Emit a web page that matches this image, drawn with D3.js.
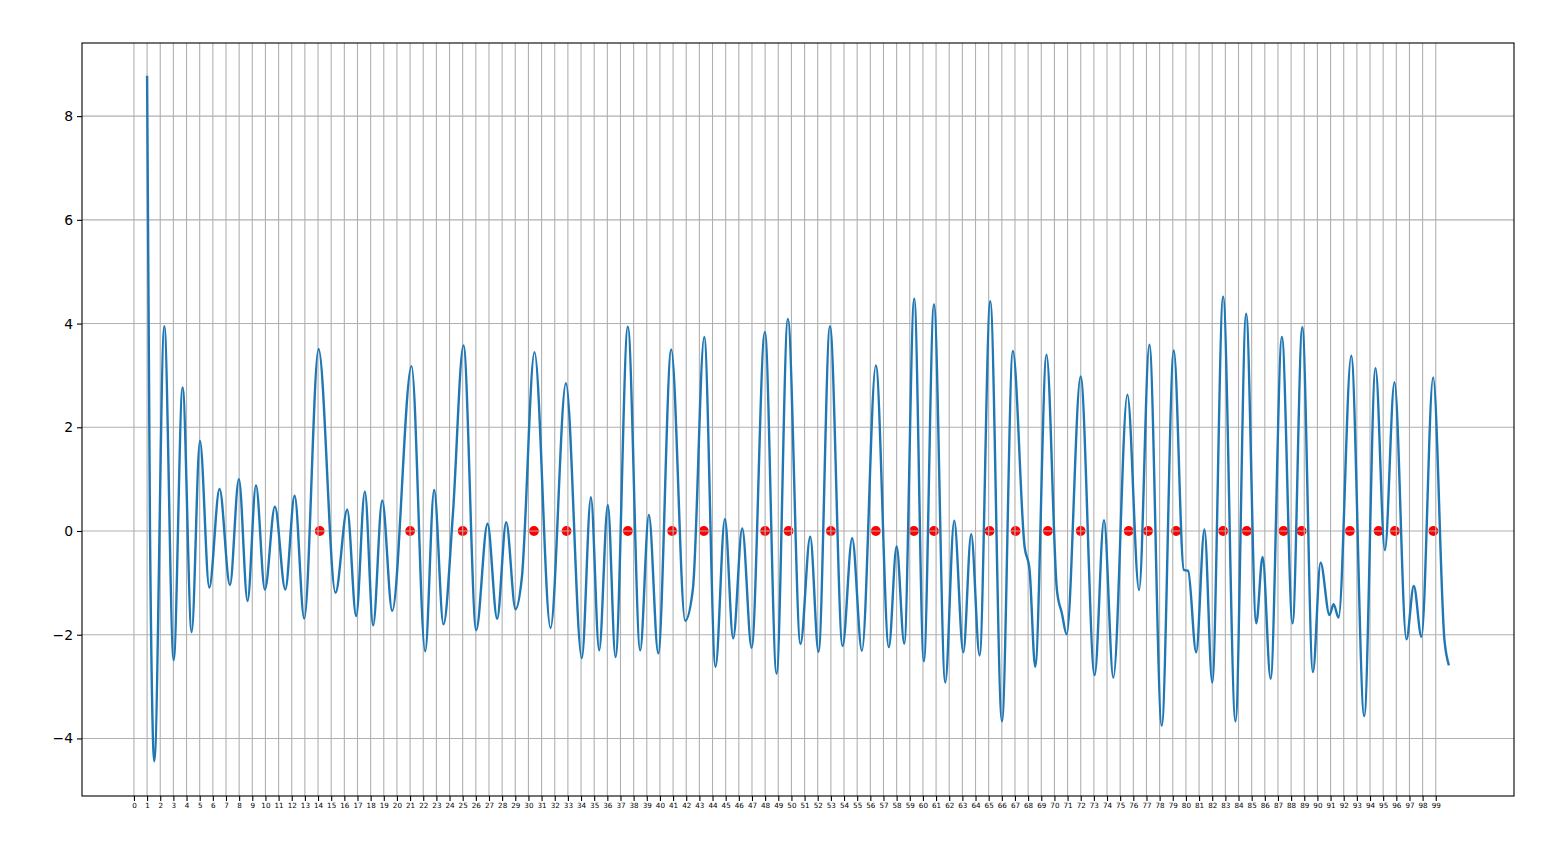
<!DOCTYPE html>
<html>
<head>
<meta charset="utf-8">
<script src="https://cdn.jsdelivr.net/npm/d3@7"></script>
<style>
  html, body { margin: 0; padding: 0; background: #ffffff; }
  svg { display: block; }
  text { font-family: "DejaVu Sans", sans-serif; fill: #000; }
</style>
</head>
<body>
<svg id="chart" width="1545" height="864"></svg>
<script>
// ---- data ----
const signalX = [
  1, 1.22, 1.55, 2.31, 3.02, 3.70, 4.39, 5.02, 5.73, 6.51, 7.30, 7.98, 8.64, 9.28, 9.96,
  10.72, 11.51, 12.22, 12.95, 14.04, 15.33, 16.22, 16.90, 17.56, 18.19, 18.88, 19.64,
  21.11, 22.15, 22.83, 23.54, 24.25, 25.06, 26.03, 26.89, 27.62, 28.31, 29.02, 29.5,
  30.46, 31.68, 32.85, 34.06, 34.75, 35.38, 36.04, 36.62, 37.56, 38.50, 39.16, 39.87,
  40.86, 41.92, 42.51, 43.37, 44.23, 44.94, 45.57, 46.26, 46.97, 47.98, 48.87, 49.73,
  50.69, 51.43, 52.06, 52.93, 53.89, 54.62, 55.36, 56.42, 57.41, 58.0, 58.58, 59.34,
  60.07, 60.84, 61.70, 62.38, 63.07, 63.67, 64.31, 65.12, 66.01, 66.84, 67.73, 68.11,
  68.54, 69.40, 70.19, 70.57, 70.93, 71.99, 73.06, 73.77, 74.48, 75.55, 76.44, 77.22,
  78.16, 79.08, 79.84, 80.17, 80.78, 81.41, 82.0, 82.83, 83.77, 84.58, 85.35, 85.83,
  86.44, 87.30, 88.11, 88.85, 89.66, 90.24, 90.92, 91.23, 91.61, 92.57, 93.56, 94.42,
  95.13, 95.86, 96.77, 97.33, 97.91, 98.80, 99.66, 100
];
const signalY = [
  8.78, 0, -4.44, 3.95, -2.49, 2.77, -1.95, 1.74, -1.09, 0.81, -1.04, 1.00, -1.35, 0.88, -1.13,
  0.47, -1.13, 0.68, -1.69, 3.51, -1.19, 0.41, -1.64, 0.76, -1.82, 0.59, -1.54,
  3.18, -2.32, 0.79, -1.80, 0.30, 3.58, -1.91, 0.14, -1.69, 0.17, -1.51, -0.90,
  3.45, -1.87, 2.85, -2.45, 0.65, -2.30, 0.50, -2.43, 3.94, -2.30, 0.31, -2.36,
  3.50, -1.73, -1.11, 3.74, -2.62, 0.23, -2.07, 0.05, -2.25, 3.84, -2.75, 4.09,
  -2.18, -0.11, -2.33, 3.95, -2.22, -0.14, -2.31, 3.19, -2.24, -0.30, -2.17, 4.48,
  -2.51, 4.37, -2.92, 0.20, -2.34, -0.06, -2.40, 4.43, -3.67, 3.47, -0.30, -0.75,
  -2.62, 3.40, -1.14, -1.59, -1.99, 2.98, -2.78, 0.21, -2.83, 2.63, -1.14, 3.59,
  -3.75, 3.48, -0.75, -0.77, -2.34, 0.03, -2.92, 4.52, -3.67, 4.19, -1.78, -0.50,
  -2.85, 3.74, -1.78, 3.93, -2.72, -0.61, -1.62, -1.41, -1.67, 3.38, -3.57, 3.14,
  -0.37, 2.87, -2.09, -1.06, -2.04, 2.96, -2.10, -2.59
];
const markerX = [
  14.13, 21.0, 25.0, 30.42, 32.9, 37.56, 40.93, 43.34, 48.0, 49.78, 53.0, 56.42, 59.31,
  60.84, 65.07, 67.05, 69.5, 72.0, 75.65, 77.12, 79.25, 82.83, 84.63, 87.42, 88.8,
  92.47, 94.65, 95.89, 98.82
];
const markerY = markerX.map(() => 0);
const xTickValues = d3.range(0, 100);
const yTickValues = [-4, -2, 0, 2, 4, 6, 8];

// ---- layout ----
const svg = d3.select("#chart");
const L = 82, R = 1514, T = 43, B = 796;
const x = d3.scaleLinear().domain([-3.95, 104.95]).range([L, R]);
const y = d3.scaleLinear().domain([-5.11, 9.41]).range([B, T]);

svg.append("clipPath").attr("id", "clip")
  .append("rect").attr("x", L).attr("y", T).attr("width", R - L).attr("height", B - T);

// markers (below the grid, as in the reference)
svg.append("g").selectAll("circle.m")
  .data(markerX.map((d, i) => [d, markerY[i]]))
  .join("circle")
  .attr("class", "m")
  .attr("cx", d => x(d[0]))
  .attr("cy", d => y(d[1]))
  .attr("r", 4.9)
  .attr("fill", "#ff0000");

// grid
const grid = svg.append("g").attr("stroke", "#b0b0b0").attr("stroke-width", 1.1);
grid.selectAll("line.gx").data(xTickValues).join("line")
  .attr("x1", d => x(d)).attr("x2", d => x(d))
  .attr("y1", T).attr("y2", B);
grid.selectAll("line.gy").data(yTickValues).join("line")
  .attr("x1", L).attr("x2", R)
  .attr("y1", d => y(d)).attr("y2", d => y(d));

// curve (above the grid)
const pts = signalX.map((d, i) => [d, signalY[i]]);
svg.append("path")
  .datum(pts)
  .attr("clip-path", "url(#clip)")
  .attr("fill", "none")
  .attr("stroke", "#1f77b4")
  .attr("stroke-width", 2.4)
  .attr("stroke-linejoin", "round")
  .attr("stroke-linecap", "butt")
  .attr("d", d3.line().x(d => x(d[0])).y(d => y(d[1])).curve(d3.curveMonotoneX));

// axes
const xAxis = d3.axisBottom(x).tickValues(xTickValues).tickSize(5).tickPadding(2)
  .tickFormat(d3.format("d"));
const gx = svg.append("g").attr("transform", `translate(0,${B})`).call(xAxis);
gx.select(".domain").remove();
gx.selectAll(".tick line").attr("stroke", "#000").attr("stroke-width", 1.1);
gx.selectAll(".tick text").attr("font-size", 7.2).attr("font-family", "DejaVu Sans");

const yAxis = d3.axisLeft(y).tickValues(yTickValues).tickSize(5).tickPadding(4)
  .tickFormat(d3.format("d"));
const gy = svg.append("g").attr("transform", `translate(${L},0)`).call(yAxis);
gy.select(".domain").remove();
gy.selectAll(".tick line").attr("stroke", "#000").attr("stroke-width", 1.1);
gy.selectAll(".tick text").attr("font-size", 13.9).attr("font-family", "DejaVu Sans");

// frame
svg.append("rect")
  .attr("x", L).attr("y", T).attr("width", R - L).attr("height", B - T)
  .attr("fill", "none").attr("stroke", "#000").attr("stroke-width", 1.1);
</script>
</body>
</html>
